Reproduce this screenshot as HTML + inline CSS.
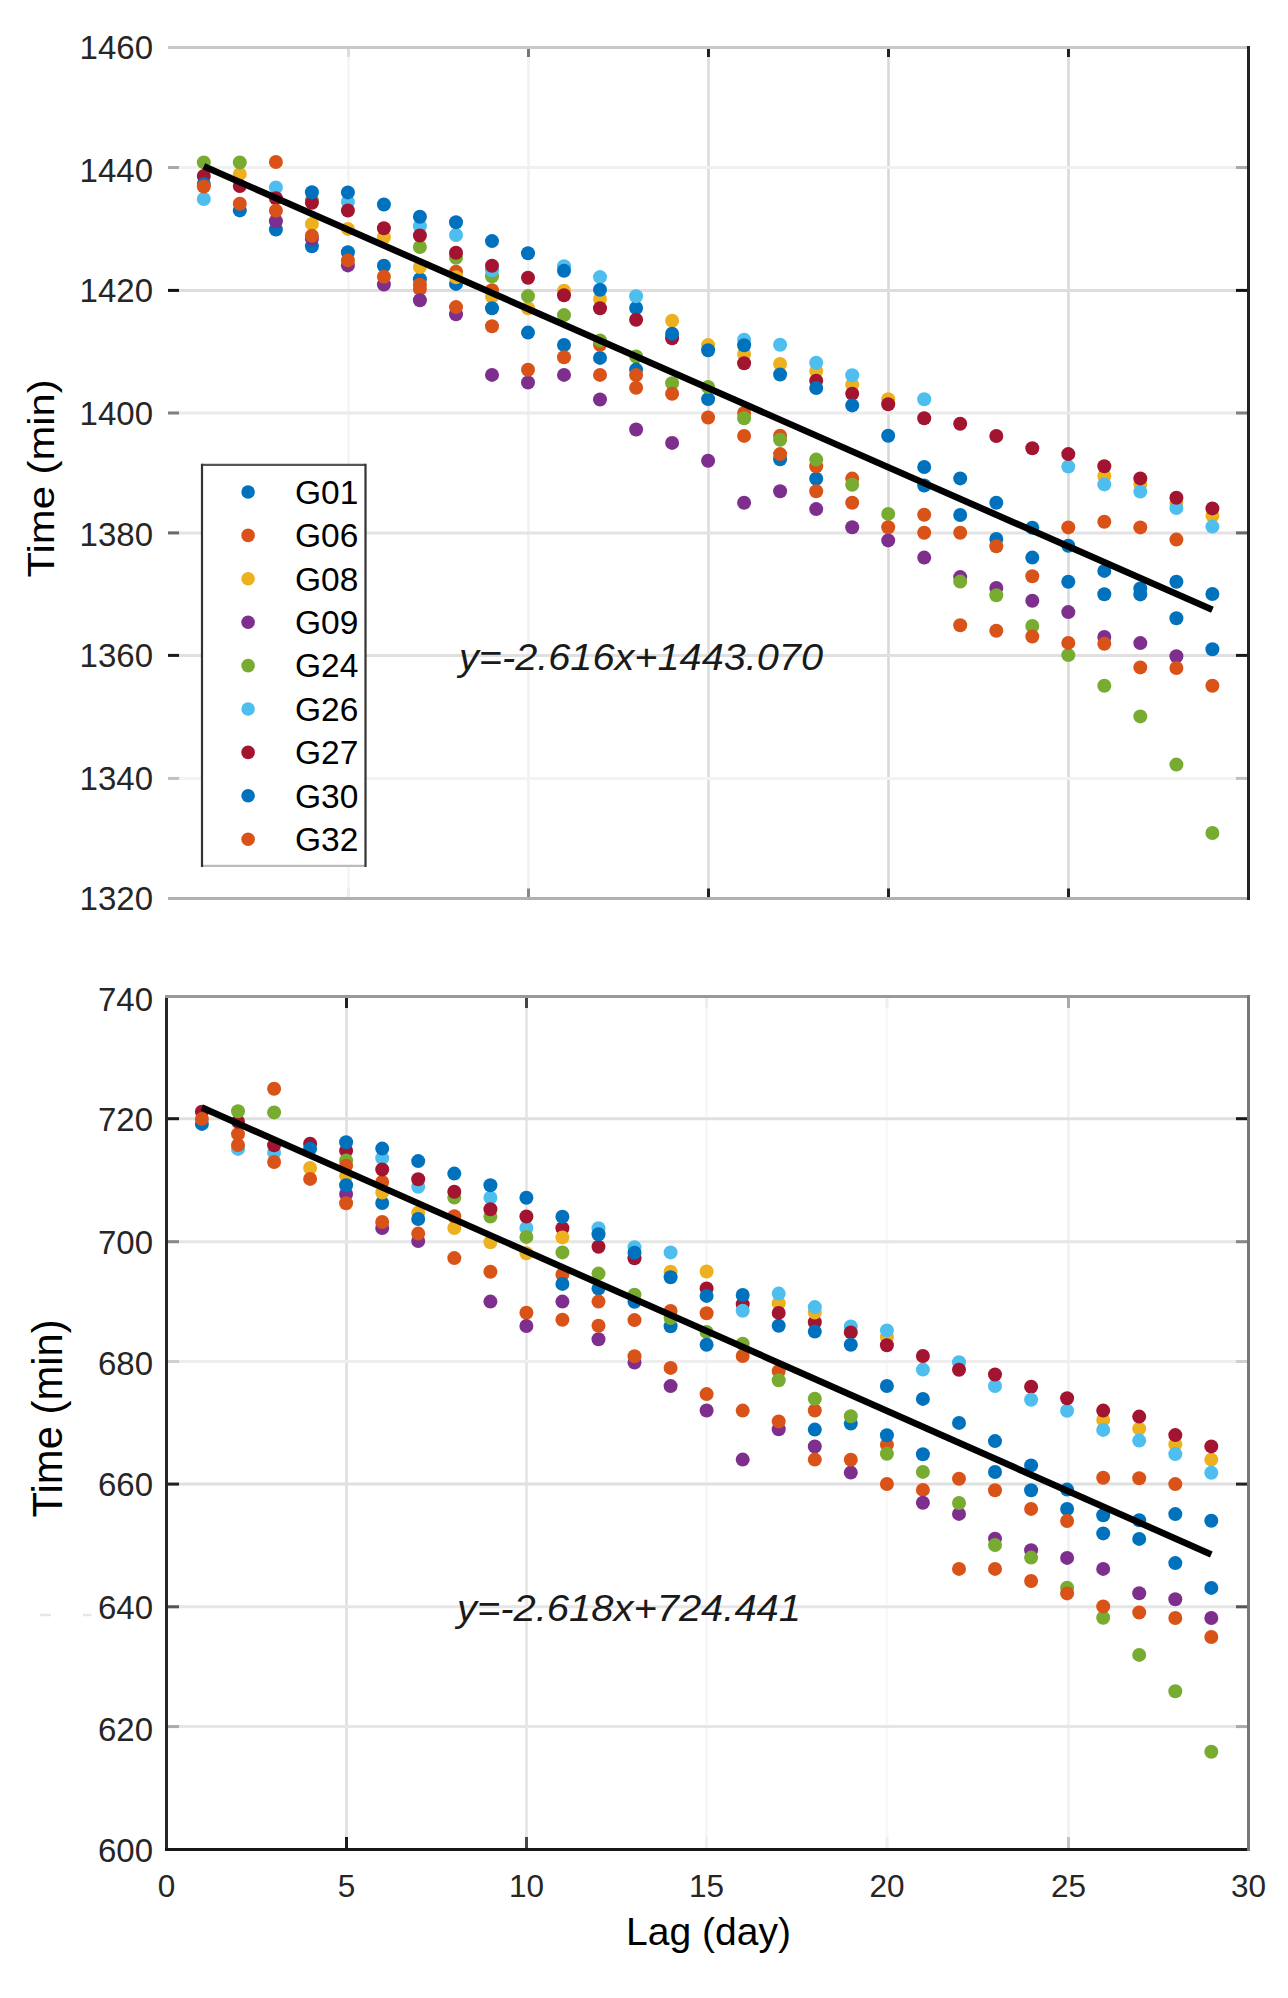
<!DOCTYPE html><html><head><meta charset="utf-8"><style>html,body{margin:0;padding:0;background:#fff;}svg{display:block;}text{font-family:"Liberation Sans",sans-serif;}</style></head><body>
<svg width="1288" height="1998" viewBox="0 0 1288 1998">
<rect width="1288" height="1998" fill="#fff"/>
<line x1="348.5" y1="47.5" x2="348.5" y2="898.4" stroke="#f4f4f4" stroke-width="2.6"/>
<line x1="528.5" y1="47.5" x2="528.5" y2="898.4" stroke="#f1f1f1" stroke-width="2.6"/>
<line x1="708.5" y1="47.5" x2="708.5" y2="898.4" stroke="#dcdcdc" stroke-width="2.6"/>
<line x1="888.5" y1="47.5" x2="888.5" y2="898.4" stroke="#d8d8d8" stroke-width="2.6"/>
<line x1="1068.5" y1="47.5" x2="1068.5" y2="898.4" stroke="#dadada" stroke-width="2.6"/>
<line x1="168.0" y1="167.5" x2="1247.0" y2="167.5" stroke="#f0f0f0" stroke-width="3"/>
<line x1="168.0" y1="290.4" x2="1247.0" y2="290.4" stroke="#dddddd" stroke-width="3"/>
<line x1="168.0" y1="413.0" x2="1247.0" y2="413.0" stroke="#ebebeb" stroke-width="3"/>
<line x1="168.0" y1="532.9" x2="1247.0" y2="532.9" stroke="#e3e3e3" stroke-width="3"/>
<line x1="168.0" y1="655.4" x2="1247.0" y2="655.4" stroke="#e0e0e0" stroke-width="3"/>
<line x1="168.0" y1="778.4" x2="1247.0" y2="778.4" stroke="#f3f3f3" stroke-width="3"/>
<line x1="346.5" y1="996.6" x2="346.5" y2="1849.4" stroke="#dfdfdf" stroke-width="2.6"/>
<line x1="526.5" y1="996.6" x2="526.5" y2="1849.4" stroke="#e5e5e5" stroke-width="2.6"/>
<line x1="706.5" y1="996.6" x2="706.5" y2="1849.4" stroke="#f7f7f7" stroke-width="2.6"/>
<line x1="887.0" y1="996.6" x2="887.0" y2="1849.4" stroke="#f8f8f8" stroke-width="2.6"/>
<line x1="1068.5" y1="996.6" x2="1068.5" y2="1849.4" stroke="#f0f0f0" stroke-width="2.6"/>
<line x1="168.0" y1="1118.7" x2="1247.0" y2="1118.7" stroke="#e0e0e0" stroke-width="3"/>
<line x1="168.0" y1="1241.7" x2="1247.0" y2="1241.7" stroke="#e6e6e6" stroke-width="3"/>
<line x1="168.0" y1="1361.5" x2="1247.0" y2="1361.5" stroke="#eeeeee" stroke-width="3"/>
<line x1="168.0" y1="1484.1" x2="1247.0" y2="1484.1" stroke="#e0e0e0" stroke-width="3"/>
<line x1="168.0" y1="1606.8" x2="1247.0" y2="1606.8" stroke="#e6e6e6" stroke-width="3"/>
<line x1="168.0" y1="1726.6" x2="1247.0" y2="1726.6" stroke="#e6e6e6" stroke-width="3"/>
<text x="459" y="669.7" font-size="37" font-style="italic" fill="#1a1a1a" textLength="364" lengthAdjust="spacingAndGlyphs">y=-2.616x+1443.070</text>
<text x="457" y="1620.6" font-size="37" font-style="italic" fill="#1a1a1a" textLength="344" lengthAdjust="spacingAndGlyphs">y=-2.618x+724.441</text>
<line x1="40.0" y1="1615.0" x2="51.0" y2="1615.0" stroke="#e6e6e6" stroke-width="2.5"/>
<line x1="83.0" y1="1615.0" x2="91.5" y2="1615.0" stroke="#e6e6e6" stroke-width="2.5"/>
<line x1="168.0" y1="47.5" x2="1247.0" y2="47.5" stroke="#c8c8c8" stroke-width="3"/>
<line x1="168.0" y1="898.4" x2="1247.0" y2="898.4" stroke="#b0b0b0" stroke-width="3"/>
<line x1="1248.5" y1="46.0" x2="1248.5" y2="900.0" stroke="#222" stroke-width="3"/>
<line x1="166.5" y1="995.0" x2="166.5" y2="1851.0" stroke="#262626" stroke-width="3"/>
<line x1="165.0" y1="1849.4" x2="1250.0" y2="1849.4" stroke="#161616" stroke-width="3"/>
<line x1="165.0" y1="996.6" x2="1250.0" y2="996.6" stroke="#999" stroke-width="3"/>
<line x1="1248.5" y1="995.0" x2="1248.5" y2="1851.0" stroke="#777" stroke-width="3"/>
<line x1="168.0" y1="167.5" x2="179.0" y2="167.5" stroke="#aaaaaa" stroke-width="3"/>
<line x1="1236.0" y1="167.5" x2="1247.0" y2="167.5" stroke="#aaaaaa" stroke-width="3"/>
<line x1="168.0" y1="290.4" x2="179.0" y2="290.4" stroke="#111111" stroke-width="3"/>
<line x1="1236.0" y1="290.4" x2="1247.0" y2="290.4" stroke="#111111" stroke-width="3"/>
<line x1="168.0" y1="413.0" x2="179.0" y2="413.0" stroke="#808080" stroke-width="3"/>
<line x1="1236.0" y1="413.0" x2="1247.0" y2="413.0" stroke="#808080" stroke-width="3"/>
<line x1="168.0" y1="532.9" x2="179.0" y2="532.9" stroke="#6a6a6a" stroke-width="3"/>
<line x1="1236.0" y1="532.9" x2="1247.0" y2="532.9" stroke="#6a6a6a" stroke-width="3"/>
<line x1="168.0" y1="655.4" x2="179.0" y2="655.4" stroke="#1a1a1a" stroke-width="3"/>
<line x1="1236.0" y1="655.4" x2="1247.0" y2="655.4" stroke="#1a1a1a" stroke-width="3"/>
<line x1="168.0" y1="778.4" x2="179.0" y2="778.4" stroke="#c0c0c0" stroke-width="3"/>
<line x1="1236.0" y1="778.4" x2="1247.0" y2="778.4" stroke="#c0c0c0" stroke-width="3"/>
<line x1="168.0" y1="1118.7" x2="179.0" y2="1118.7" stroke="#1a1a1a" stroke-width="3"/>
<line x1="1236.0" y1="1118.7" x2="1247.0" y2="1118.7" stroke="#1a1a1a" stroke-width="3"/>
<line x1="168.0" y1="1241.7" x2="179.0" y2="1241.7" stroke="#888888" stroke-width="3"/>
<line x1="1236.0" y1="1241.7" x2="1247.0" y2="1241.7" stroke="#888888" stroke-width="3"/>
<line x1="168.0" y1="1361.5" x2="179.0" y2="1361.5" stroke="#d0d0d0" stroke-width="3"/>
<line x1="1236.0" y1="1361.5" x2="1247.0" y2="1361.5" stroke="#d0d0d0" stroke-width="3"/>
<line x1="168.0" y1="1484.1" x2="179.0" y2="1484.1" stroke="#222222" stroke-width="3"/>
<line x1="1236.0" y1="1484.1" x2="1247.0" y2="1484.1" stroke="#222222" stroke-width="3"/>
<line x1="168.0" y1="1606.8" x2="179.0" y2="1606.8" stroke="#555555" stroke-width="3"/>
<line x1="1236.0" y1="1606.8" x2="1247.0" y2="1606.8" stroke="#555555" stroke-width="3"/>
<line x1="168.0" y1="1726.6" x2="179.0" y2="1726.6" stroke="#aaaaaa" stroke-width="3"/>
<line x1="1236.0" y1="1726.6" x2="1247.0" y2="1726.6" stroke="#aaaaaa" stroke-width="3"/>
<line x1="348.5" y1="49.0" x2="348.5" y2="57.0" stroke="#dddddd" stroke-width="3"/>
<line x1="348.5" y1="888.5" x2="348.5" y2="897.0" stroke="#eeeeee" stroke-width="3"/>
<line x1="528.5" y1="49.0" x2="528.5" y2="57.0" stroke="#777777" stroke-width="3"/>
<line x1="528.5" y1="888.5" x2="528.5" y2="897.0" stroke="#888888" stroke-width="3"/>
<line x1="708.5" y1="49.0" x2="708.5" y2="57.0" stroke="#222" stroke-width="3"/>
<line x1="708.5" y1="888.5" x2="708.5" y2="897.0" stroke="#222" stroke-width="3"/>
<line x1="888.5" y1="49.0" x2="888.5" y2="57.0" stroke="#222" stroke-width="3"/>
<line x1="888.5" y1="888.5" x2="888.5" y2="897.0" stroke="#222" stroke-width="3"/>
<line x1="1068.5" y1="49.0" x2="1068.5" y2="57.0" stroke="#222" stroke-width="3"/>
<line x1="1068.5" y1="888.5" x2="1068.5" y2="897.0" stroke="#222" stroke-width="3"/>
<line x1="346.5" y1="998.0" x2="346.5" y2="1008.0" stroke="#222" stroke-width="3"/>
<line x1="346.5" y1="1837.0" x2="346.5" y2="1848.0" stroke="#1a1a1a" stroke-width="3"/>
<line x1="526.5" y1="998.0" x2="526.5" y2="1008.0" stroke="#444" stroke-width="3"/>
<line x1="526.5" y1="1837.0" x2="526.5" y2="1848.0" stroke="#444" stroke-width="3"/>
<line x1="706.5" y1="998.0" x2="706.5" y2="1008.0" stroke="#eeeeee" stroke-width="3"/>
<line x1="706.5" y1="1837.0" x2="706.5" y2="1848.0" stroke="#f0f0f0" stroke-width="3"/>
<line x1="887.0" y1="998.0" x2="887.0" y2="1008.0" stroke="#eeeeee" stroke-width="3"/>
<line x1="887.0" y1="1837.0" x2="887.0" y2="1848.0" stroke="#f0f0f0" stroke-width="3"/>
<line x1="1068.5" y1="998.0" x2="1068.5" y2="1008.0" stroke="#aaaaaa" stroke-width="3"/>
<line x1="1068.5" y1="1837.0" x2="1068.5" y2="1848.0" stroke="#c4c4c4" stroke-width="3"/>
<circle cx="203.8" cy="199.0" r="7.0" fill="#4DBEEE"/>
<circle cx="203.8" cy="162.4" r="7.0" fill="#77AC30"/>
<circle cx="203.8" cy="176.0" r="7.0" fill="#A2142F"/>
<circle cx="203.8" cy="184.0" r="7.0" fill="#0072BD"/>
<circle cx="203.8" cy="186.5" r="7.0" fill="#D95319"/>
<circle cx="239.8" cy="173.9" r="7.0" fill="#EDB120"/>
<circle cx="239.8" cy="162.4" r="7.0" fill="#77AC30"/>
<circle cx="239.8" cy="186.0" r="7.0" fill="#A2142F"/>
<circle cx="239.8" cy="210.4" r="7.0" fill="#0072BD"/>
<circle cx="239.8" cy="203.7" r="7.0" fill="#D95319"/>
<circle cx="275.9" cy="229.5" r="7.0" fill="#0072BD"/>
<circle cx="275.9" cy="187.4" r="7.0" fill="#4DBEEE"/>
<circle cx="275.9" cy="198.3" r="7.0" fill="#A2142F"/>
<circle cx="275.9" cy="221.3" r="7.0" fill="#7E2F8E"/>
<circle cx="275.9" cy="162.0" r="7.0" fill="#D95319"/>
<circle cx="275.9" cy="210.8" r="7.0" fill="#D95319"/>
<circle cx="311.9" cy="246.3" r="7.0" fill="#0072BD"/>
<circle cx="311.9" cy="223.9" r="7.0" fill="#EDB120"/>
<circle cx="311.9" cy="238.7" r="7.0" fill="#7E2F8E"/>
<circle cx="311.9" cy="200.0" r="7.0" fill="#77AC30"/>
<circle cx="311.9" cy="202.8" r="7.0" fill="#A2142F"/>
<circle cx="311.9" cy="192.3" r="7.0" fill="#0072BD"/>
<circle cx="311.9" cy="235.8" r="7.0" fill="#D95319"/>
<circle cx="347.9" cy="201.7" r="7.0" fill="#4DBEEE"/>
<circle cx="347.9" cy="228.9" r="7.0" fill="#EDB120"/>
<circle cx="347.9" cy="252.2" r="7.0" fill="#0072BD"/>
<circle cx="347.9" cy="265.4" r="7.0" fill="#7E2F8E"/>
<circle cx="347.9" cy="210.5" r="7.0" fill="#A2142F"/>
<circle cx="347.9" cy="192.4" r="7.0" fill="#0072BD"/>
<circle cx="347.9" cy="260.4" r="7.0" fill="#D95319"/>
<circle cx="383.9" cy="237.2" r="7.0" fill="#EDB120"/>
<circle cx="383.9" cy="228.3" r="7.0" fill="#A2142F"/>
<circle cx="383.9" cy="204.5" r="7.0" fill="#0072BD"/>
<circle cx="383.9" cy="265.8" r="7.0" fill="#0072BD"/>
<circle cx="383.9" cy="284.5" r="7.0" fill="#7E2F8E"/>
<circle cx="383.9" cy="276.7" r="7.0" fill="#D95319"/>
<circle cx="419.9" cy="279.3" r="7.0" fill="#0072BD"/>
<circle cx="419.9" cy="289.0" r="7.0" fill="#D95319"/>
<circle cx="419.9" cy="267.0" r="7.0" fill="#EDB120"/>
<circle cx="419.9" cy="300.2" r="7.0" fill="#7E2F8E"/>
<circle cx="419.9" cy="247.0" r="7.0" fill="#77AC30"/>
<circle cx="419.9" cy="226.2" r="7.0" fill="#4DBEEE"/>
<circle cx="419.9" cy="235.5" r="7.0" fill="#A2142F"/>
<circle cx="419.9" cy="216.8" r="7.0" fill="#0072BD"/>
<circle cx="419.9" cy="284.8" r="7.0" fill="#D95319"/>
<circle cx="456.0" cy="283.9" r="7.0" fill="#0072BD"/>
<circle cx="456.0" cy="271.7" r="7.0" fill="#D95319"/>
<circle cx="456.0" cy="277.2" r="7.0" fill="#EDB120"/>
<circle cx="456.0" cy="314.3" r="7.0" fill="#7E2F8E"/>
<circle cx="456.0" cy="257.8" r="7.0" fill="#77AC30"/>
<circle cx="456.0" cy="235.0" r="7.0" fill="#4DBEEE"/>
<circle cx="456.0" cy="252.7" r="7.0" fill="#A2142F"/>
<circle cx="456.0" cy="222.3" r="7.0" fill="#0072BD"/>
<circle cx="456.0" cy="307.1" r="7.0" fill="#D95319"/>
<circle cx="492.0" cy="241.1" r="7.0" fill="#0072BD"/>
<circle cx="492.0" cy="290.2" r="7.0" fill="#D95319"/>
<circle cx="492.0" cy="296.7" r="7.0" fill="#EDB120"/>
<circle cx="492.0" cy="374.9" r="7.0" fill="#7E2F8E"/>
<circle cx="492.0" cy="276.3" r="7.0" fill="#77AC30"/>
<circle cx="492.0" cy="270.3" r="7.0" fill="#4DBEEE"/>
<circle cx="492.0" cy="265.7" r="7.0" fill="#A2142F"/>
<circle cx="492.0" cy="308.3" r="7.0" fill="#0072BD"/>
<circle cx="492.0" cy="326.3" r="7.0" fill="#D95319"/>
<circle cx="528.0" cy="253.3" r="7.0" fill="#0072BD"/>
<circle cx="528.0" cy="332.6" r="7.0" fill="#0072BD"/>
<circle cx="528.0" cy="308.3" r="7.0" fill="#EDB120"/>
<circle cx="528.0" cy="382.5" r="7.0" fill="#7E2F8E"/>
<circle cx="528.0" cy="296.1" r="7.0" fill="#77AC30"/>
<circle cx="528.0" cy="277.7" r="7.0" fill="#A2142F"/>
<circle cx="528.0" cy="369.8" r="7.0" fill="#D95319"/>
<circle cx="564.0" cy="345.0" r="7.0" fill="#0072BD"/>
<circle cx="564.0" cy="290.7" r="7.0" fill="#EDB120"/>
<circle cx="564.0" cy="374.9" r="7.0" fill="#7E2F8E"/>
<circle cx="564.0" cy="315.1" r="7.0" fill="#77AC30"/>
<circle cx="564.0" cy="266.2" r="7.0" fill="#4DBEEE"/>
<circle cx="564.0" cy="295.2" r="7.0" fill="#A2142F"/>
<circle cx="564.0" cy="270.8" r="7.0" fill="#0072BD"/>
<circle cx="564.0" cy="357.2" r="7.0" fill="#D95319"/>
<circle cx="600.0" cy="357.9" r="7.0" fill="#0072BD"/>
<circle cx="600.0" cy="344.8" r="7.0" fill="#D95319"/>
<circle cx="600.0" cy="298.9" r="7.0" fill="#EDB120"/>
<circle cx="600.0" cy="399.5" r="7.0" fill="#7E2F8E"/>
<circle cx="600.0" cy="340.5" r="7.0" fill="#77AC30"/>
<circle cx="600.0" cy="277.1" r="7.0" fill="#4DBEEE"/>
<circle cx="600.0" cy="308.3" r="7.0" fill="#A2142F"/>
<circle cx="600.0" cy="289.7" r="7.0" fill="#0072BD"/>
<circle cx="600.0" cy="374.9" r="7.0" fill="#D95319"/>
<circle cx="636.1" cy="308.0" r="7.0" fill="#0072BD"/>
<circle cx="636.1" cy="387.7" r="7.0" fill="#D95319"/>
<circle cx="636.1" cy="429.5" r="7.0" fill="#7E2F8E"/>
<circle cx="636.1" cy="356.5" r="7.0" fill="#77AC30"/>
<circle cx="636.1" cy="296.2" r="7.0" fill="#4DBEEE"/>
<circle cx="636.1" cy="319.8" r="7.0" fill="#A2142F"/>
<circle cx="636.1" cy="369.6" r="7.0" fill="#0072BD"/>
<circle cx="636.1" cy="375.0" r="7.0" fill="#D95319"/>
<circle cx="672.1" cy="320.7" r="7.0" fill="#EDB120"/>
<circle cx="672.1" cy="338.3" r="7.0" fill="#A2142F"/>
<circle cx="672.1" cy="333.7" r="7.0" fill="#0072BD"/>
<circle cx="672.1" cy="383.2" r="7.0" fill="#77AC30"/>
<circle cx="672.1" cy="393.7" r="7.0" fill="#D95319"/>
<circle cx="672.1" cy="442.9" r="7.0" fill="#7E2F8E"/>
<circle cx="708.1" cy="399.1" r="7.0" fill="#0072BD"/>
<circle cx="708.1" cy="345.1" r="7.0" fill="#EDB120"/>
<circle cx="708.1" cy="460.8" r="7.0" fill="#7E2F8E"/>
<circle cx="708.1" cy="387.0" r="7.0" fill="#77AC30"/>
<circle cx="708.1" cy="350.2" r="7.0" fill="#0072BD"/>
<circle cx="708.1" cy="417.5" r="7.0" fill="#D95319"/>
<circle cx="744.1" cy="413.0" r="7.0" fill="#D95319"/>
<circle cx="744.1" cy="353.9" r="7.0" fill="#EDB120"/>
<circle cx="744.1" cy="502.8" r="7.0" fill="#7E2F8E"/>
<circle cx="744.1" cy="418.2" r="7.0" fill="#77AC30"/>
<circle cx="744.1" cy="339.7" r="7.0" fill="#4DBEEE"/>
<circle cx="744.1" cy="363.3" r="7.0" fill="#A2142F"/>
<circle cx="744.1" cy="345.2" r="7.0" fill="#0072BD"/>
<circle cx="744.1" cy="435.9" r="7.0" fill="#D95319"/>
<circle cx="780.1" cy="459.2" r="7.0" fill="#0072BD"/>
<circle cx="780.1" cy="435.7" r="7.0" fill="#D95319"/>
<circle cx="780.1" cy="363.9" r="7.0" fill="#EDB120"/>
<circle cx="780.1" cy="491.2" r="7.0" fill="#7E2F8E"/>
<circle cx="780.1" cy="439.7" r="7.0" fill="#77AC30"/>
<circle cx="780.1" cy="344.8" r="7.0" fill="#4DBEEE"/>
<circle cx="780.1" cy="374.5" r="7.0" fill="#0072BD"/>
<circle cx="780.1" cy="454.1" r="7.0" fill="#D95319"/>
<circle cx="816.2" cy="478.7" r="7.0" fill="#0072BD"/>
<circle cx="816.2" cy="466.3" r="7.0" fill="#D95319"/>
<circle cx="816.2" cy="371.0" r="7.0" fill="#EDB120"/>
<circle cx="816.2" cy="509.1" r="7.0" fill="#7E2F8E"/>
<circle cx="816.2" cy="459.6" r="7.0" fill="#77AC30"/>
<circle cx="816.2" cy="362.8" r="7.0" fill="#4DBEEE"/>
<circle cx="816.2" cy="380.8" r="7.0" fill="#A2142F"/>
<circle cx="816.2" cy="388.0" r="7.0" fill="#0072BD"/>
<circle cx="816.2" cy="491.3" r="7.0" fill="#D95319"/>
<circle cx="852.2" cy="478.6" r="7.0" fill="#D95319"/>
<circle cx="852.2" cy="384.7" r="7.0" fill="#EDB120"/>
<circle cx="852.2" cy="527.3" r="7.0" fill="#7E2F8E"/>
<circle cx="852.2" cy="484.8" r="7.0" fill="#77AC30"/>
<circle cx="852.2" cy="375.3" r="7.0" fill="#4DBEEE"/>
<circle cx="852.2" cy="393.8" r="7.0" fill="#A2142F"/>
<circle cx="852.2" cy="405.4" r="7.0" fill="#0072BD"/>
<circle cx="852.2" cy="502.8" r="7.0" fill="#D95319"/>
<circle cx="888.2" cy="399.2" r="7.0" fill="#EDB120"/>
<circle cx="888.2" cy="540.4" r="7.0" fill="#7E2F8E"/>
<circle cx="888.2" cy="513.9" r="7.0" fill="#77AC30"/>
<circle cx="888.2" cy="404.3" r="7.0" fill="#A2142F"/>
<circle cx="888.2" cy="435.8" r="7.0" fill="#0072BD"/>
<circle cx="888.2" cy="527.3" r="7.0" fill="#D95319"/>
<circle cx="924.2" cy="467.0" r="7.0" fill="#0072BD"/>
<circle cx="924.2" cy="514.8" r="7.0" fill="#D95319"/>
<circle cx="924.2" cy="557.6" r="7.0" fill="#7E2F8E"/>
<circle cx="924.2" cy="399.3" r="7.0" fill="#4DBEEE"/>
<circle cx="924.2" cy="418.3" r="7.0" fill="#A2142F"/>
<circle cx="924.2" cy="485.5" r="7.0" fill="#0072BD"/>
<circle cx="924.2" cy="532.7" r="7.0" fill="#D95319"/>
<circle cx="960.2" cy="478.4" r="7.0" fill="#0072BD"/>
<circle cx="960.2" cy="532.8" r="7.0" fill="#D95319"/>
<circle cx="960.2" cy="577.1" r="7.0" fill="#7E2F8E"/>
<circle cx="960.2" cy="581.6" r="7.0" fill="#77AC30"/>
<circle cx="960.2" cy="423.7" r="7.0" fill="#A2142F"/>
<circle cx="960.2" cy="515.0" r="7.0" fill="#0072BD"/>
<circle cx="960.2" cy="625.2" r="7.0" fill="#D95319"/>
<circle cx="996.3" cy="502.8" r="7.0" fill="#0072BD"/>
<circle cx="996.3" cy="539.0" r="7.0" fill="#0072BD"/>
<circle cx="996.3" cy="587.9" r="7.0" fill="#7E2F8E"/>
<circle cx="996.3" cy="595.2" r="7.0" fill="#77AC30"/>
<circle cx="996.3" cy="436.0" r="7.0" fill="#A2142F"/>
<circle cx="996.3" cy="546.3" r="7.0" fill="#D95319"/>
<circle cx="996.3" cy="630.7" r="7.0" fill="#D95319"/>
<circle cx="1032.3" cy="527.7" r="7.0" fill="#0072BD"/>
<circle cx="1032.3" cy="576.3" r="7.0" fill="#D95319"/>
<circle cx="1032.3" cy="600.8" r="7.0" fill="#7E2F8E"/>
<circle cx="1032.3" cy="626.0" r="7.0" fill="#77AC30"/>
<circle cx="1032.3" cy="448.3" r="7.0" fill="#A2142F"/>
<circle cx="1032.3" cy="557.6" r="7.0" fill="#0072BD"/>
<circle cx="1032.3" cy="636.5" r="7.0" fill="#D95319"/>
<circle cx="1068.3" cy="545.7" r="7.0" fill="#0072BD"/>
<circle cx="1068.3" cy="612.1" r="7.0" fill="#7E2F8E"/>
<circle cx="1068.3" cy="655.1" r="7.0" fill="#77AC30"/>
<circle cx="1068.3" cy="466.6" r="7.0" fill="#4DBEEE"/>
<circle cx="1068.3" cy="454.1" r="7.0" fill="#A2142F"/>
<circle cx="1068.3" cy="581.7" r="7.0" fill="#0072BD"/>
<circle cx="1068.3" cy="527.4" r="7.0" fill="#D95319"/>
<circle cx="1068.3" cy="642.9" r="7.0" fill="#D95319"/>
<circle cx="1104.3" cy="570.9" r="7.0" fill="#0072BD"/>
<circle cx="1104.3" cy="476.0" r="7.0" fill="#EDB120"/>
<circle cx="1104.3" cy="637.0" r="7.0" fill="#7E2F8E"/>
<circle cx="1104.3" cy="685.7" r="7.0" fill="#77AC30"/>
<circle cx="1104.3" cy="484.4" r="7.0" fill="#4DBEEE"/>
<circle cx="1104.3" cy="466.3" r="7.0" fill="#A2142F"/>
<circle cx="1104.3" cy="594.3" r="7.0" fill="#0072BD"/>
<circle cx="1104.3" cy="521.7" r="7.0" fill="#D95319"/>
<circle cx="1104.3" cy="643.7" r="7.0" fill="#D95319"/>
<circle cx="1140.3" cy="588.4" r="7.0" fill="#0072BD"/>
<circle cx="1140.3" cy="484.0" r="7.0" fill="#EDB120"/>
<circle cx="1140.3" cy="643.1" r="7.0" fill="#7E2F8E"/>
<circle cx="1140.3" cy="716.4" r="7.0" fill="#77AC30"/>
<circle cx="1140.3" cy="491.6" r="7.0" fill="#4DBEEE"/>
<circle cx="1140.3" cy="478.4" r="7.0" fill="#A2142F"/>
<circle cx="1140.3" cy="594.4" r="7.0" fill="#0072BD"/>
<circle cx="1140.3" cy="527.4" r="7.0" fill="#D95319"/>
<circle cx="1140.3" cy="667.4" r="7.0" fill="#D95319"/>
<circle cx="1176.4" cy="581.7" r="7.0" fill="#0072BD"/>
<circle cx="1176.4" cy="503.0" r="7.0" fill="#EDB120"/>
<circle cx="1176.4" cy="656.3" r="7.0" fill="#7E2F8E"/>
<circle cx="1176.4" cy="764.6" r="7.0" fill="#77AC30"/>
<circle cx="1176.4" cy="508.0" r="7.0" fill="#4DBEEE"/>
<circle cx="1176.4" cy="497.7" r="7.0" fill="#A2142F"/>
<circle cx="1176.4" cy="618.3" r="7.0" fill="#0072BD"/>
<circle cx="1176.4" cy="539.6" r="7.0" fill="#D95319"/>
<circle cx="1176.4" cy="668.0" r="7.0" fill="#D95319"/>
<circle cx="1212.4" cy="594.0" r="7.0" fill="#0072BD"/>
<circle cx="1212.4" cy="515.7" r="7.0" fill="#EDB120"/>
<circle cx="1212.4" cy="833.0" r="7.0" fill="#77AC30"/>
<circle cx="1212.4" cy="526.6" r="7.0" fill="#4DBEEE"/>
<circle cx="1212.4" cy="508.4" r="7.0" fill="#A2142F"/>
<circle cx="1212.4" cy="649.3" r="7.0" fill="#0072BD"/>
<circle cx="1212.4" cy="685.7" r="7.0" fill="#D95319"/>
<circle cx="201.9" cy="1111.8" r="7.0" fill="#A2142F"/>
<circle cx="201.9" cy="1123.9" r="7.0" fill="#0072BD"/>
<circle cx="201.9" cy="1118.9" r="7.0" fill="#D95319"/>
<circle cx="238.0" cy="1134.1" r="7.0" fill="#D95319"/>
<circle cx="238.0" cy="1148.9" r="7.0" fill="#4DBEEE"/>
<circle cx="238.0" cy="1121.7" r="7.0" fill="#A2142F"/>
<circle cx="238.0" cy="1145.0" r="7.0" fill="#D95319"/>
<circle cx="238.0" cy="1111.3" r="7.0" fill="#77AC30"/>
<circle cx="274.1" cy="1088.8" r="7.0" fill="#D95319"/>
<circle cx="274.1" cy="1112.4" r="7.0" fill="#77AC30"/>
<circle cx="274.1" cy="1152.7" r="7.0" fill="#4DBEEE"/>
<circle cx="274.1" cy="1145.3" r="7.0" fill="#A2142F"/>
<circle cx="274.1" cy="1162.0" r="7.0" fill="#D95319"/>
<circle cx="310.1" cy="1143.8" r="7.0" fill="#A2142F"/>
<circle cx="310.1" cy="1148.8" r="7.0" fill="#0072BD"/>
<circle cx="310.1" cy="1168.0" r="7.0" fill="#EDB120"/>
<circle cx="310.1" cy="1178.9" r="7.0" fill="#D95319"/>
<circle cx="346.1" cy="1150.8" r="7.0" fill="#A2142F"/>
<circle cx="346.1" cy="1175.8" r="7.0" fill="#EDB120"/>
<circle cx="346.1" cy="1194.0" r="7.0" fill="#7E2F8E"/>
<circle cx="346.1" cy="1142.3" r="7.0" fill="#0072BD"/>
<circle cx="346.1" cy="1160.5" r="7.0" fill="#77AC30"/>
<circle cx="346.1" cy="1185.3" r="7.0" fill="#0072BD"/>
<circle cx="346.1" cy="1203.2" r="7.0" fill="#D95319"/>
<circle cx="346.1" cy="1165.7" r="7.0" fill="#D95319"/>
<circle cx="382.2" cy="1158.1" r="7.0" fill="#4DBEEE"/>
<circle cx="382.2" cy="1182.0" r="7.0" fill="#D95319"/>
<circle cx="382.2" cy="1203.0" r="7.0" fill="#0072BD"/>
<circle cx="382.2" cy="1148.6" r="7.0" fill="#0072BD"/>
<circle cx="382.2" cy="1169.5" r="7.0" fill="#A2142F"/>
<circle cx="382.2" cy="1192.6" r="7.0" fill="#EDB120"/>
<circle cx="382.2" cy="1228.0" r="7.0" fill="#7E2F8E"/>
<circle cx="382.2" cy="1222.0" r="7.0" fill="#D95319"/>
<circle cx="418.2" cy="1161.1" r="7.0" fill="#0072BD"/>
<circle cx="418.2" cy="1186.7" r="7.0" fill="#4DBEEE"/>
<circle cx="418.2" cy="1179.3" r="7.0" fill="#A2142F"/>
<circle cx="418.2" cy="1212.7" r="7.0" fill="#EDB120"/>
<circle cx="418.2" cy="1219.0" r="7.0" fill="#0072BD"/>
<circle cx="418.2" cy="1241.0" r="7.0" fill="#7E2F8E"/>
<circle cx="418.2" cy="1233.6" r="7.0" fill="#D95319"/>
<circle cx="454.3" cy="1173.6" r="7.0" fill="#0072BD"/>
<circle cx="454.3" cy="1197.6" r="7.0" fill="#77AC30"/>
<circle cx="454.3" cy="1191.8" r="7.0" fill="#A2142F"/>
<circle cx="454.3" cy="1228.0" r="7.0" fill="#EDB120"/>
<circle cx="454.3" cy="1216.2" r="7.0" fill="#D95319"/>
<circle cx="454.3" cy="1258.1" r="7.0" fill="#D95319"/>
<circle cx="490.4" cy="1197.8" r="7.0" fill="#4DBEEE"/>
<circle cx="490.4" cy="1216.6" r="7.0" fill="#77AC30"/>
<circle cx="490.4" cy="1185.3" r="7.0" fill="#0072BD"/>
<circle cx="490.4" cy="1209.2" r="7.0" fill="#A2142F"/>
<circle cx="490.4" cy="1242.3" r="7.0" fill="#EDB120"/>
<circle cx="490.4" cy="1271.7" r="7.0" fill="#D95319"/>
<circle cx="490.4" cy="1301.6" r="7.0" fill="#7E2F8E"/>
<circle cx="526.4" cy="1197.8" r="7.0" fill="#0072BD"/>
<circle cx="526.4" cy="1227.9" r="7.0" fill="#4DBEEE"/>
<circle cx="526.4" cy="1216.5" r="7.0" fill="#A2142F"/>
<circle cx="526.4" cy="1236.9" r="7.0" fill="#77AC30"/>
<circle cx="526.4" cy="1253.2" r="7.0" fill="#EDB120"/>
<circle cx="526.4" cy="1312.7" r="7.0" fill="#D95319"/>
<circle cx="526.4" cy="1326.0" r="7.0" fill="#7E2F8E"/>
<circle cx="562.4" cy="1228.2" r="7.0" fill="#A2142F"/>
<circle cx="562.4" cy="1216.8" r="7.0" fill="#0072BD"/>
<circle cx="562.4" cy="1237.4" r="7.0" fill="#EDB120"/>
<circle cx="562.4" cy="1252.4" r="7.0" fill="#77AC30"/>
<circle cx="562.4" cy="1274.6" r="7.0" fill="#D95319"/>
<circle cx="562.4" cy="1283.9" r="7.0" fill="#0072BD"/>
<circle cx="562.4" cy="1301.6" r="7.0" fill="#7E2F8E"/>
<circle cx="562.4" cy="1319.8" r="7.0" fill="#D95319"/>
<circle cx="598.5" cy="1228.2" r="7.0" fill="#4DBEEE"/>
<circle cx="598.5" cy="1246.8" r="7.0" fill="#A2142F"/>
<circle cx="598.5" cy="1234.2" r="7.0" fill="#0072BD"/>
<circle cx="598.5" cy="1288.6" r="7.0" fill="#0072BD"/>
<circle cx="598.5" cy="1273.6" r="7.0" fill="#77AC30"/>
<circle cx="598.5" cy="1301.6" r="7.0" fill="#D95319"/>
<circle cx="598.5" cy="1339.2" r="7.0" fill="#7E2F8E"/>
<circle cx="598.5" cy="1325.8" r="7.0" fill="#D95319"/>
<circle cx="634.5" cy="1247.2" r="7.0" fill="#4DBEEE"/>
<circle cx="634.5" cy="1258.2" r="7.0" fill="#A2142F"/>
<circle cx="634.5" cy="1252.7" r="7.0" fill="#0072BD"/>
<circle cx="634.5" cy="1301.7" r="7.0" fill="#0072BD"/>
<circle cx="634.5" cy="1294.8" r="7.0" fill="#77AC30"/>
<circle cx="634.5" cy="1320.1" r="7.0" fill="#D95319"/>
<circle cx="634.5" cy="1362.6" r="7.0" fill="#7E2F8E"/>
<circle cx="634.5" cy="1356.2" r="7.0" fill="#D95319"/>
<circle cx="670.6" cy="1252.4" r="7.0" fill="#4DBEEE"/>
<circle cx="670.6" cy="1271.7" r="7.0" fill="#EDB120"/>
<circle cx="670.6" cy="1277.2" r="7.0" fill="#0072BD"/>
<circle cx="670.6" cy="1326.2" r="7.0" fill="#0072BD"/>
<circle cx="670.6" cy="1318.0" r="7.0" fill="#77AC30"/>
<circle cx="670.6" cy="1310.9" r="7.0" fill="#D95319"/>
<circle cx="670.6" cy="1367.9" r="7.0" fill="#D95319"/>
<circle cx="670.6" cy="1386.1" r="7.0" fill="#7E2F8E"/>
<circle cx="706.6" cy="1271.5" r="7.0" fill="#EDB120"/>
<circle cx="706.6" cy="1288.5" r="7.0" fill="#A2142F"/>
<circle cx="706.6" cy="1295.9" r="7.0" fill="#0072BD"/>
<circle cx="706.6" cy="1313.3" r="7.0" fill="#D95319"/>
<circle cx="706.6" cy="1332.0" r="7.0" fill="#77AC30"/>
<circle cx="706.6" cy="1344.8" r="7.0" fill="#0072BD"/>
<circle cx="706.6" cy="1410.5" r="7.0" fill="#7E2F8E"/>
<circle cx="706.6" cy="1394.1" r="7.0" fill="#D95319"/>
<circle cx="742.7" cy="1304.1" r="7.0" fill="#A2142F"/>
<circle cx="742.7" cy="1295.0" r="7.0" fill="#0072BD"/>
<circle cx="742.7" cy="1310.7" r="7.0" fill="#4DBEEE"/>
<circle cx="742.7" cy="1356.0" r="7.0" fill="#D95319"/>
<circle cx="742.7" cy="1343.7" r="7.0" fill="#77AC30"/>
<circle cx="742.7" cy="1410.6" r="7.0" fill="#D95319"/>
<circle cx="742.7" cy="1459.6" r="7.0" fill="#7E2F8E"/>
<circle cx="778.7" cy="1303.2" r="7.0" fill="#EDB120"/>
<circle cx="778.7" cy="1325.7" r="7.0" fill="#0072BD"/>
<circle cx="778.7" cy="1293.6" r="7.0" fill="#4DBEEE"/>
<circle cx="778.7" cy="1312.9" r="7.0" fill="#A2142F"/>
<circle cx="778.7" cy="1371.1" r="7.0" fill="#D95319"/>
<circle cx="778.7" cy="1380.3" r="7.0" fill="#77AC30"/>
<circle cx="778.7" cy="1429.2" r="7.0" fill="#7E2F8E"/>
<circle cx="778.7" cy="1421.4" r="7.0" fill="#D95319"/>
<circle cx="814.8" cy="1322.2" r="7.0" fill="#A2142F"/>
<circle cx="814.8" cy="1312.5" r="7.0" fill="#EDB120"/>
<circle cx="814.8" cy="1331.6" r="7.0" fill="#0072BD"/>
<circle cx="814.8" cy="1307.1" r="7.0" fill="#4DBEEE"/>
<circle cx="814.8" cy="1410.5" r="7.0" fill="#D95319"/>
<circle cx="814.8" cy="1398.8" r="7.0" fill="#77AC30"/>
<circle cx="814.8" cy="1429.6" r="7.0" fill="#0072BD"/>
<circle cx="814.8" cy="1446.5" r="7.0" fill="#7E2F8E"/>
<circle cx="814.8" cy="1459.6" r="7.0" fill="#D95319"/>
<circle cx="850.8" cy="1326.4" r="7.0" fill="#4DBEEE"/>
<circle cx="850.8" cy="1332.4" r="7.0" fill="#A2142F"/>
<circle cx="850.8" cy="1344.7" r="7.0" fill="#0072BD"/>
<circle cx="850.8" cy="1423.6" r="7.0" fill="#0072BD"/>
<circle cx="850.8" cy="1416.3" r="7.0" fill="#77AC30"/>
<circle cx="850.8" cy="1472.6" r="7.0" fill="#7E2F8E"/>
<circle cx="850.8" cy="1459.8" r="7.0" fill="#D95319"/>
<circle cx="886.9" cy="1337.3" r="7.0" fill="#EDB120"/>
<circle cx="886.9" cy="1330.4" r="7.0" fill="#4DBEEE"/>
<circle cx="886.9" cy="1345.2" r="7.0" fill="#A2142F"/>
<circle cx="886.9" cy="1386.0" r="7.0" fill="#0072BD"/>
<circle cx="886.9" cy="1444.7" r="7.0" fill="#D95319"/>
<circle cx="886.9" cy="1435.3" r="7.0" fill="#0072BD"/>
<circle cx="886.9" cy="1453.7" r="7.0" fill="#77AC30"/>
<circle cx="886.9" cy="1484.0" r="7.0" fill="#D95319"/>
<circle cx="922.9" cy="1369.6" r="7.0" fill="#4DBEEE"/>
<circle cx="922.9" cy="1356.0" r="7.0" fill="#A2142F"/>
<circle cx="922.9" cy="1398.9" r="7.0" fill="#0072BD"/>
<circle cx="922.9" cy="1454.3" r="7.0" fill="#0072BD"/>
<circle cx="922.9" cy="1471.9" r="7.0" fill="#77AC30"/>
<circle cx="922.9" cy="1489.9" r="7.0" fill="#D95319"/>
<circle cx="922.9" cy="1502.8" r="7.0" fill="#7E2F8E"/>
<circle cx="959.0" cy="1362.2" r="7.0" fill="#4DBEEE"/>
<circle cx="959.0" cy="1369.8" r="7.0" fill="#A2142F"/>
<circle cx="959.0" cy="1422.9" r="7.0" fill="#0072BD"/>
<circle cx="959.0" cy="1478.8" r="7.0" fill="#D95319"/>
<circle cx="959.0" cy="1513.9" r="7.0" fill="#7E2F8E"/>
<circle cx="959.0" cy="1503.0" r="7.0" fill="#77AC30"/>
<circle cx="959.0" cy="1568.9" r="7.0" fill="#D95319"/>
<circle cx="995.0" cy="1386.0" r="7.0" fill="#4DBEEE"/>
<circle cx="995.0" cy="1374.5" r="7.0" fill="#A2142F"/>
<circle cx="995.0" cy="1441.1" r="7.0" fill="#0072BD"/>
<circle cx="995.0" cy="1472.0" r="7.0" fill="#0072BD"/>
<circle cx="995.0" cy="1490.2" r="7.0" fill="#D95319"/>
<circle cx="995.0" cy="1538.7" r="7.0" fill="#7E2F8E"/>
<circle cx="995.0" cy="1545.0" r="7.0" fill="#77AC30"/>
<circle cx="995.0" cy="1568.9" r="7.0" fill="#D95319"/>
<circle cx="1031.1" cy="1386.7" r="7.0" fill="#A2142F"/>
<circle cx="1031.1" cy="1399.8" r="7.0" fill="#4DBEEE"/>
<circle cx="1031.1" cy="1465.4" r="7.0" fill="#0072BD"/>
<circle cx="1031.1" cy="1490.2" r="7.0" fill="#0072BD"/>
<circle cx="1031.1" cy="1508.9" r="7.0" fill="#D95319"/>
<circle cx="1031.1" cy="1550.3" r="7.0" fill="#7E2F8E"/>
<circle cx="1031.1" cy="1557.6" r="7.0" fill="#77AC30"/>
<circle cx="1031.1" cy="1581.0" r="7.0" fill="#D95319"/>
<circle cx="1067.1" cy="1410.7" r="7.0" fill="#4DBEEE"/>
<circle cx="1067.1" cy="1398.2" r="7.0" fill="#A2142F"/>
<circle cx="1067.1" cy="1489.6" r="7.0" fill="#0072BD"/>
<circle cx="1067.1" cy="1509.0" r="7.0" fill="#0072BD"/>
<circle cx="1067.1" cy="1521.0" r="7.0" fill="#D95319"/>
<circle cx="1067.1" cy="1557.9" r="7.0" fill="#7E2F8E"/>
<circle cx="1067.1" cy="1587.8" r="7.0" fill="#77AC30"/>
<circle cx="1067.1" cy="1593.4" r="7.0" fill="#D95319"/>
<circle cx="1103.2" cy="1419.9" r="7.0" fill="#EDB120"/>
<circle cx="1103.2" cy="1410.6" r="7.0" fill="#A2142F"/>
<circle cx="1103.2" cy="1429.9" r="7.0" fill="#4DBEEE"/>
<circle cx="1103.2" cy="1477.8" r="7.0" fill="#D95319"/>
<circle cx="1103.2" cy="1515.2" r="7.0" fill="#0072BD"/>
<circle cx="1103.2" cy="1533.4" r="7.0" fill="#0072BD"/>
<circle cx="1103.2" cy="1568.9" r="7.0" fill="#7E2F8E"/>
<circle cx="1103.2" cy="1617.8" r="7.0" fill="#77AC30"/>
<circle cx="1103.2" cy="1606.4" r="7.0" fill="#D95319"/>
<circle cx="1139.2" cy="1428.7" r="7.0" fill="#EDB120"/>
<circle cx="1139.2" cy="1416.6" r="7.0" fill="#A2142F"/>
<circle cx="1139.2" cy="1440.6" r="7.0" fill="#4DBEEE"/>
<circle cx="1139.2" cy="1478.3" r="7.0" fill="#D95319"/>
<circle cx="1139.2" cy="1520.2" r="7.0" fill="#0072BD"/>
<circle cx="1139.2" cy="1538.9" r="7.0" fill="#0072BD"/>
<circle cx="1139.2" cy="1593.2" r="7.0" fill="#7E2F8E"/>
<circle cx="1139.2" cy="1612.5" r="7.0" fill="#D95319"/>
<circle cx="1139.2" cy="1654.9" r="7.0" fill="#77AC30"/>
<circle cx="1175.3" cy="1444.4" r="7.0" fill="#EDB120"/>
<circle cx="1175.3" cy="1435.1" r="7.0" fill="#A2142F"/>
<circle cx="1175.3" cy="1454.1" r="7.0" fill="#4DBEEE"/>
<circle cx="1175.3" cy="1484.1" r="7.0" fill="#D95319"/>
<circle cx="1175.3" cy="1514.1" r="7.0" fill="#0072BD"/>
<circle cx="1175.3" cy="1563.1" r="7.0" fill="#0072BD"/>
<circle cx="1175.3" cy="1599.3" r="7.0" fill="#7E2F8E"/>
<circle cx="1175.3" cy="1618.0" r="7.0" fill="#D95319"/>
<circle cx="1175.3" cy="1691.2" r="7.0" fill="#77AC30"/>
<circle cx="1211.3" cy="1459.6" r="7.0" fill="#EDB120"/>
<circle cx="1211.3" cy="1446.4" r="7.0" fill="#A2142F"/>
<circle cx="1211.3" cy="1472.8" r="7.0" fill="#4DBEEE"/>
<circle cx="1211.3" cy="1520.7" r="7.0" fill="#0072BD"/>
<circle cx="1211.3" cy="1587.9" r="7.0" fill="#0072BD"/>
<circle cx="1211.3" cy="1618.0" r="7.0" fill="#7E2F8E"/>
<circle cx="1211.3" cy="1637.0" r="7.0" fill="#D95319"/>
<circle cx="1211.3" cy="1751.8" r="7.0" fill="#77AC30"/>
<line x1="203.8" y1="166.3" x2="1212.4" y2="609.8" stroke="#000" stroke-width="6.6"/>
<line x1="201.9" y1="1107.6" x2="1211.3" y2="1554.5" stroke="#000" stroke-width="6.6"/>
<text x="153" y="59.3" font-size="33" text-anchor="end" fill="#262626">1460</text>
<text x="153" y="182.3" font-size="33" text-anchor="end" fill="#262626">1440</text>
<text x="153" y="302.2" font-size="33" text-anchor="end" fill="#262626">1420</text>
<text x="153" y="424.8" font-size="33" text-anchor="end" fill="#262626">1400</text>
<text x="153" y="546.4" font-size="33" text-anchor="end" fill="#262626">1380</text>
<text x="153" y="667.2" font-size="33" text-anchor="end" fill="#262626">1360</text>
<text x="153" y="790.2" font-size="33" text-anchor="end" fill="#262626">1340</text>
<text x="153" y="910.2" font-size="33" text-anchor="end" fill="#262626">1320</text>
<text x="153" y="1010.9" font-size="33" text-anchor="end" fill="#262626">740</text>
<text x="153" y="1130.5" font-size="33" text-anchor="end" fill="#262626">720</text>
<text x="153" y="1253.5" font-size="33" text-anchor="end" fill="#262626">700</text>
<text x="153" y="1374.8" font-size="33" text-anchor="end" fill="#262626">680</text>
<text x="153" y="1495.9" font-size="33" text-anchor="end" fill="#262626">660</text>
<text x="153" y="1618.6" font-size="33" text-anchor="end" fill="#262626">640</text>
<text x="153" y="1740.9" font-size="33" text-anchor="end" fill="#262626">620</text>
<text x="153" y="1862.2" font-size="33" text-anchor="end" fill="#262626">600</text>
<text x="166.5" y="1896.6" font-size="31.5" text-anchor="middle" fill="#262626">0</text>
<text x="346.5" y="1896.6" font-size="31.5" text-anchor="middle" fill="#262626">5</text>
<text x="526.5" y="1896.6" font-size="31.5" text-anchor="middle" fill="#262626">10</text>
<text x="706.5" y="1896.6" font-size="31.5" text-anchor="middle" fill="#262626">15</text>
<text x="887.0" y="1896.6" font-size="31.5" text-anchor="middle" fill="#262626">20</text>
<text x="1068.5" y="1896.6" font-size="31.5" text-anchor="middle" fill="#262626">25</text>
<text x="1248.5" y="1896.6" font-size="31.5" text-anchor="middle" fill="#262626">30</text>
<text transform="translate(53.5,478.4) rotate(-90) scale(1,0.93)" font-size="40.5" text-anchor="middle" fill="#000" textLength="198" lengthAdjust="spacingAndGlyphs">Time (min)</text>
<text transform="translate(61.9,1418.4) rotate(-90) scale(1,1.03)" font-size="40.5" text-anchor="middle" fill="#000" textLength="198" lengthAdjust="spacingAndGlyphs">Time (min)</text>
<text x="708.5" y="1944.6" font-size="39" text-anchor="middle" fill="#000">Lag (day)</text>
<rect x="202" y="464.8" width="163.5" height="401" fill="#fff" stroke="none"/>
<line x1="202.0" y1="464.8" x2="365.5" y2="464.8" stroke="#555" stroke-width="2.2"/>
<line x1="202.0" y1="865.8" x2="365.5" y2="865.8" stroke="#bbb" stroke-width="2.2"/>
<line x1="202.0" y1="463.7" x2="202.0" y2="866.9" stroke="#333" stroke-width="2.2"/>
<line x1="365.5" y1="463.7" x2="365.5" y2="866.9" stroke="#333" stroke-width="2.2"/>
<circle cx="248.1" cy="492.0" r="6.8" fill="#0072BD"/>
<text x="295" y="503.8" font-size="33.5" fill="#000">G01</text>
<circle cx="248.1" cy="535.4" r="6.8" fill="#D95319"/>
<text x="295" y="547.2" font-size="33.5" fill="#000">G06</text>
<circle cx="248.1" cy="578.8" r="6.8" fill="#EDB120"/>
<text x="295" y="590.6" font-size="33.5" fill="#000">G08</text>
<circle cx="248.1" cy="622.2" r="6.8" fill="#7E2F8E"/>
<text x="295" y="634.0" font-size="33.5" fill="#000">G09</text>
<circle cx="248.1" cy="665.6" r="6.8" fill="#77AC30"/>
<text x="295" y="677.4" font-size="33.5" fill="#000">G24</text>
<circle cx="248.1" cy="709.0" r="6.8" fill="#4DBEEE"/>
<text x="295" y="720.8" font-size="33.5" fill="#000">G26</text>
<circle cx="248.1" cy="752.4" r="6.8" fill="#A2142F"/>
<text x="295" y="764.2" font-size="33.5" fill="#000">G27</text>
<circle cx="248.1" cy="795.8" r="6.8" fill="#0072BD"/>
<text x="295" y="807.6" font-size="33.5" fill="#000">G30</text>
<circle cx="248.1" cy="839.2" r="6.8" fill="#D95319"/>
<text x="295" y="851.0" font-size="33.5" fill="#000">G32</text>
</svg></body></html>
